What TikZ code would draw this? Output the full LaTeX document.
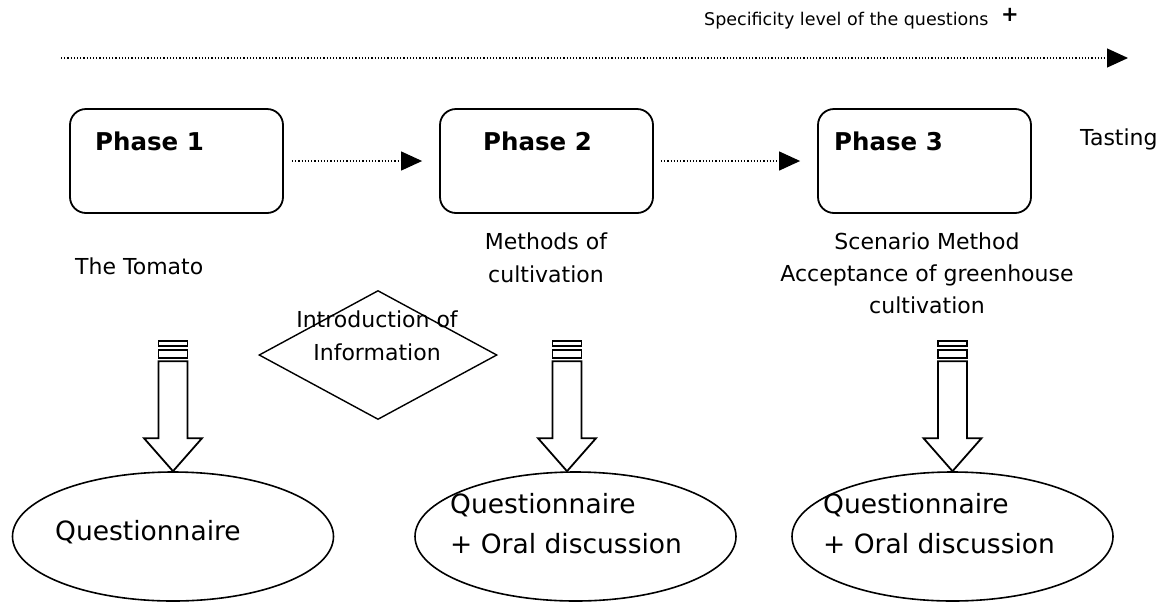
\documentclass[tikz,border=0pt]{standalone}
\usepackage{fontspec}
\setmainfont{DejaVu Sans}
\usetikzlibrary{shapes.geometric,arrows.meta}
\begin{document}
\begin{tikzpicture}[x=1pt,y=-1pt,
	phase/.style={draw,line width=1.8pt,rounded corners=16pt,minimum width=213pt,minimum height=104pt,inner sep=0pt},
	phasetxt/.style={anchor=base west,inner sep=0pt,font=\fontsize{24.5}{29}\selectfont\bfseries},
	txt/.style={inner sep=0pt,align=center,font=\fontsize{22}{33}\selectfont},
	bubble/.style={draw,ellipse,line width=1.6pt,minimum width=321pt,minimum height=129pt,inner sep=0pt},
	bubbletxt/.style={anchor=base west,inner sep=0pt,align=left,font=\fontsize{26.5}{40}\selectfont},
	dots/.style={dotted,line width=1.2pt,-{Triangle[length=21pt,width=19pt]}},
	hollow/.style={draw,line width=1.8pt,fill=white,line join=miter}]
	\useasboundingbox (0,0) rectangle (1175,603);
	
	% level of the questions
	\coordinate (s0) at (61,58);
	\coordinate (s1) at (1128,58);
	\draw[dots] (s0) -- (s1);
	\node[anchor=base west,inner sep=0pt,font=\fontsize{17.5}{20}\selectfont] (spec) at (704,25) {Specificity level of the questions};
	\node[inner sep=0pt,font=\fontsize{21}{24}\selectfont\bfseries] (plus) at (1010,15) {+};
	
	% phases
	\node[phase] (ph1) at (176.5,161) {};
	\node[phase] (ph2) at (546.5,161) {};
	\node[phase] (ph3) at (924.5,161) {};
	\node[phasetxt] (ph1t) at (95,150) {Phase 1};
	\node[phasetxt] (ph2t) at (483,150) {Phase 2};
	\node[phasetxt] (ph3t) at (834,150) {Phase 3};
	\draw[dots,shorten <=8pt,shorten >=17pt] (ph1) -- (ph2);
	\draw[dots,shorten <=7pt,shorten >=17pt] (ph2) -- (ph3);
	
	\node[txt,anchor=base west] (tasting) at (1080,145) {Tasting};
	\node[txt,anchor=base west] (tomato) at (75,274) {The Tomato};
	\node[txt,anchor=base] (methods) at (546,282) {Methods of\\cultivation};
	\node[txt,anchor=base,font=\fontsize{22}{32}\selectfont] (scen) at (927,313) {Scenario Method\\Acceptance of greenhouse\\cultivation};
	
	\node[draw,diamond,line width=1.4pt,minimum width=238pt,minimum height=129pt,inner sep=0pt] (info) at (378,355) {};
	\node[txt,anchor=base] (infot) at (377,360) {Introduction of\\Information};
	
	% questionnaires
	\node[bubble] (q1) at (173,536.5) {};
	\node[bubble] (q2) at (575.5,536.5) {};
	\node[bubble] (q3) at (952.5,536.5) {};
	\node[bubbletxt] (q1t) at (55,540) {Questionnaire};
	\node[bubbletxt] (q2t) at (450,553) {Questionnaire\\+ Oral discussion};
	\node[bubbletxt] (q3t) at (823,553) {Questionnaire\\+ Oral discussion};
	
	\foreach \q/\dx in {q1/0,q2/-8.5,q3/0}{
		\begin{scope}[shift={([xshift=\dx pt]\q.north)}]
			\draw[hollow] (0,0) -- (-29,-33) -- (-14.5,-33) -- (-14.5,-110) -- (14.5,-110) -- (14.5,-33) -- (29,-33) -- cycle;
			\draw[hollow] (-14.5,-121) rectangle (14.5,-113);
			\draw[hollow] (-14.5,-130) rectangle (14.5,-125);
		\end{scope}
	}
\end{tikzpicture}
\end{document}
